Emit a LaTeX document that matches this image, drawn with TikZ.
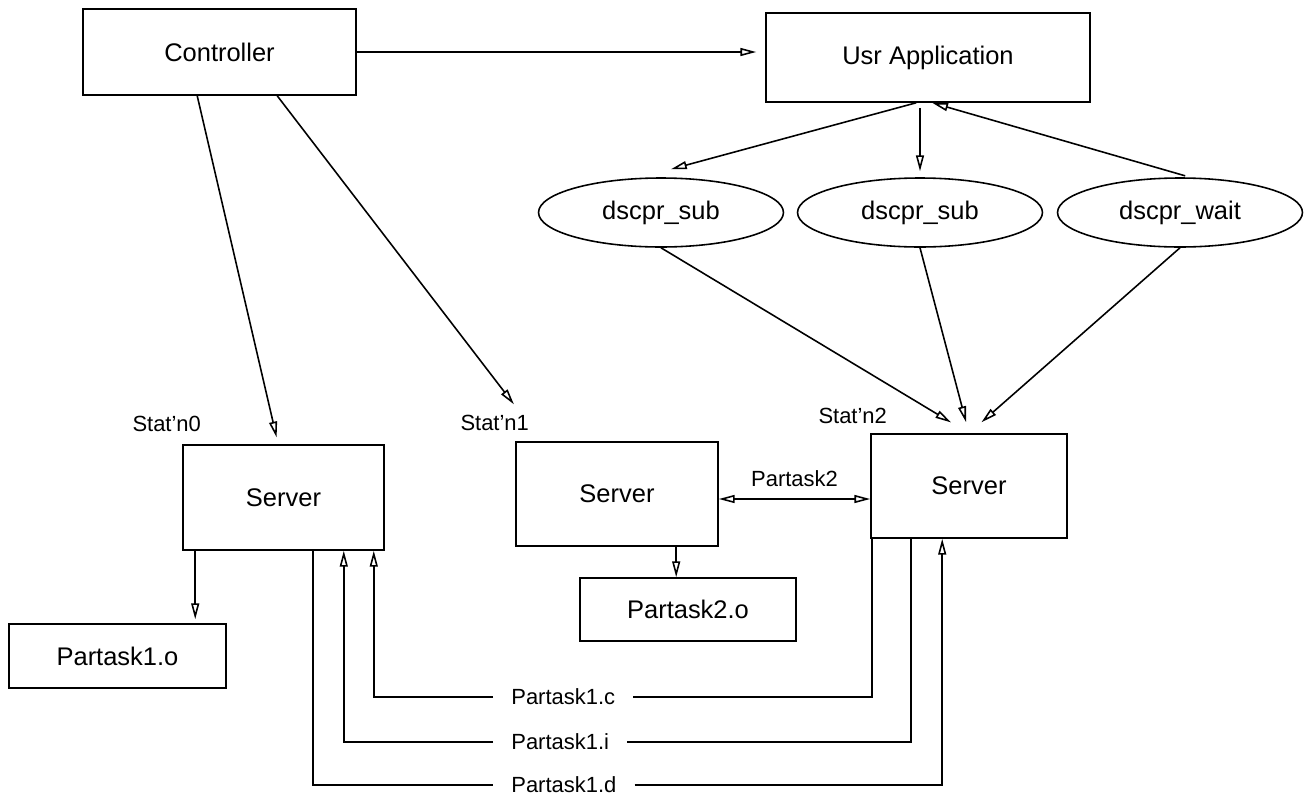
\documentclass[tikz,border=0pt]{standalone}
\usepackage{fontspec}
\setmainfont{Liberation Sans}
\usetikzlibrary{arrows.meta,shapes.geometric}
\tikzset{
  >={Triangle[open,length=9pt,width=4.5pt]},
  every node/.style={font=\fontsize{14.5}{17}\selectfont},
  box/.style={draw,line width=.9pt,inner sep=0pt},
  oval/.style={ellipse,draw,line width=.9pt,inner sep=0pt,minimum width=4.9cm,minimum height=1.38cm},
  tag/.style={font=\fontsize{12.5}{15}\selectfont,inner sep=0pt},
  gaptag/.style={tag,anchor=west,inner xsep=3.6mm},
  arr/.style={->,line width=.9pt},
  wire/.style={line width=.9pt}
}
\begin{document}
\begin{tikzpicture}[x=0.02cm,y=-0.02cm]
  \useasboundingbox (0,0) rectangle (1309,795);
  % top row
  \node[box,minimum width=5.46cm,minimum height=1.72cm] (ctrl) at (219.5,52) {Controller};
  \node[box,minimum width=6.48cm,minimum height=1.78cm] (usr) at (928,57.5) {Usr Application};
  \node[oval] (sub1) at (661,212.5) {dscpr\_sub};
  \node[oval] (sub2) at (920,212.5) {dscpr\_sub};
  \node[oval] (wait) at (1180,212.5) {dscpr\_wait};

  % stations
  \node[box,minimum width=4.02cm,minimum height=2.1cm] (srv0) at (283.5,497.5) {Server};
  \node[box,minimum width=4.04cm,minimum height=2.08cm] (srv1) at (617,494) {Server};
  \node[box,minimum width=3.92cm,minimum height=2.08cm] (srv2) at (969,486) {Server};
  \node[tag,anchor=south east] (stat0) at ([xshift=3.8mm,yshift=2.4mm]srv0.north west) {Stat'n0};
  \node[tag,anchor=south east] (stat1) at ([xshift=2.8mm,yshift=2mm]srv1.north west) {Stat'n1};
  \node[tag,anchor=south east] (stat2) at ([xshift=3.4mm,yshift=1.8mm]srv2.north west) {Stat'n2};
  \node[box,minimum width=4.34cm,minimum height=1.28cm] (out1) at (117.5,656) {Partask1.o};
  \node[box,minimum width=4.32cm,minimum height=1.26cm] (out2) at (688,609.5) {Partask2.o};

  % file names sitting in the return lines
  \node[gaptag] (fc) at (493,697) {Partask1.c};
  \node[gaptag] (fi) at (493,742) {Partask1.i};
  \node[gaptag] (fd) at (493,785) {Partask1.d};

  \coordinate (ctl0) at ([xshift=2.3cm]ctrl.south west);
  \coordinate (ctl1) at ([xshift=3.9cm]ctrl.south west);
  \coordinate (p2a) at ([yshift=-1mm]srv1.east);
  \coordinate (o1a) at ([xshift=2.6mm]srv0.south west);
  \coordinate (o2a) at ([xshift=3.22cm]srv1.south west);

  \draw[arr,shorten >=1.8mm] (ctrl.east) -- (ctrl.east -| usr.west);
  \draw[arr] ([xshift=3.02cm]usr.south west) -- ([xshift=2mm,yshift=1.6mm]sub1.north);
  \draw[arr,shorten <=1mm,shorten >=1.2mm] (sub2.north |- usr.south) -- (sub2.north);
  \draw[arr,shorten <=1mm] ([xshift=2mm]wait.north) -- ([xshift=3.34cm]usr.south west);
  \draw[arr,shorten >=1.4mm] (ctl0) -- ([xshift=1.92cm]srv0.north west);
  \draw[arr,shorten >=9.3mm] (ctl1) -- ([xshift=5.4mm]srv1.north west);
  \foreach \e/\s in {sub1/4.2mm,sub2/2.3mm,wait/3.3mm}
    \draw[arr,shorten >=\s] (\e.south) -- (srv2.north);

  \draw[<->,wire] (p2a) -- (p2a -| srv2.west) node[midway,tag,above=2.4mm] (lp2) {Partask2};
  \draw[arr,shorten >=.8mm] (o1a) -- (o1a |- out1.north);
  \draw[arr] (o2a) -- (o2a |- out2.north);

  \draw[wire] ([xshift=.4mm]srv2.south west) |- (fc.east);
  \draw[arr] (fc.west) -| ([xshift=-2.2mm]srv0.south east);
  \draw[wire] ([xshift=8.2mm]srv2.south west) |- (fi.east);
  \draw[arr] (fi.west) -| ([xshift=-8.2mm]srv0.south east);
  \draw[wire] ([xshift=2.62cm]srv0.south west) |- (fd.west);
  \draw[arr] (fd.east) -| ([xshift=1.44cm]srv2.south west);
\end{tikzpicture}
\end{document}
